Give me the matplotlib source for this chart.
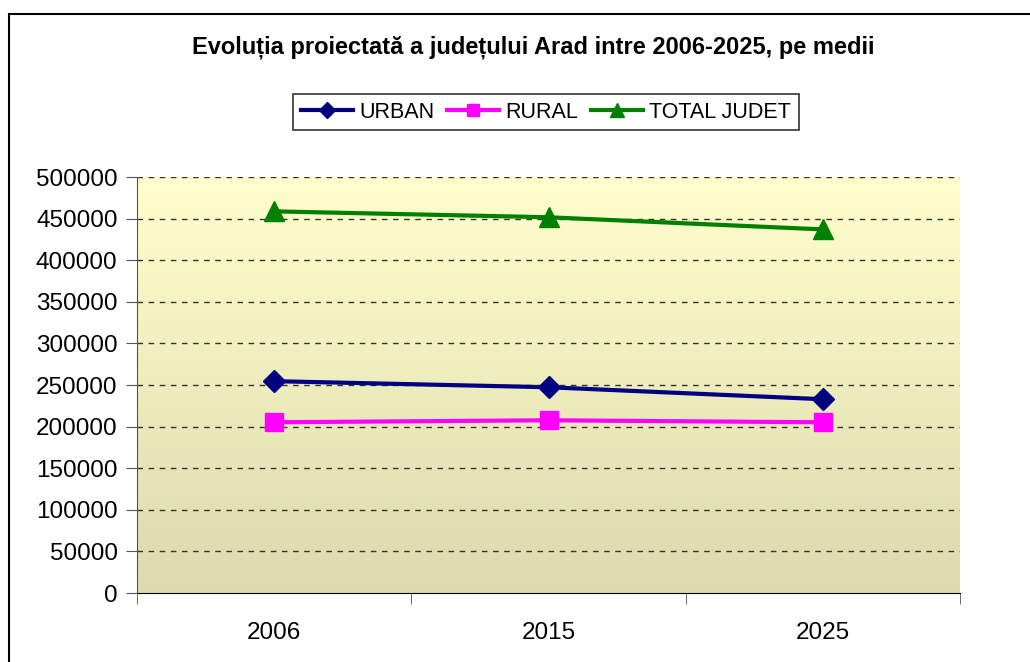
import numpy as np
import matplotlib
matplotlib.use("Agg")
import matplotlib.pyplot as plt
from matplotlib.colors import LinearSegmentedColormap
from matplotlib.patches import Rectangle

# values
years = ["2006", "2015", "2025"]
urban = [254600, 247300, 232900]
rural = [205200, 207600, 205200]
total = [458700, 451600, 437000]

plt.rcParams['font.family'] = ['Liberation Sans', 'DejaVu Sans']

W, H = 1030, 662
fig = plt.figure(figsize=(W / 100, H / 100), dpi=100)

# outer chart border (only left and top are visible)
fig.add_artist(Rectangle((9 / W, -0.1), 1.2, 1 - 14 / H + 0.1, transform=fig.transFigure,
                         fill=False, edgecolor='black', linewidth=1.5))

left, right, top, bottom = 137, 960, 177, 593
ax = fig.add_axes([left / W, 1 - bottom / H, (right - left) / W, (bottom - top) / H])

# gradient plot area
grad = LinearSegmentedColormap.from_list('g', ['#DCDAAE', '#FFFFCC'])
ax.imshow(np.linspace(0, 1, 256).reshape(-1, 1), cmap=grad, aspect='auto',
          extent=[0, 1, 0, 1], transform=ax.transAxes, origin='lower', zorder=0)

x = np.arange(len(years))
ax.plot(x, urban, color='#000080', lw=3, marker='D', ms=11, label='URBAN', zorder=3)
ax.plot(x, rural, color='#FF00FF', lw=3, marker='s', ms=13, label='RURAL', zorder=3)
ax.plot(x, total, color='#008000', lw=3, marker='^', ms=15, label='TOTAL JUDET', zorder=3)

ax.set_xlim(-0.5, 2.5)
ax.set_ylim(0, 500000)
ax.set_yticks(np.arange(0, 500001, 50000))
ax.set_xticks(x)
ax.set_xticklabels(years)
ax.set_xticks([-0.5, 0.5, 1.5, 2.5], minor=True)
ax.tick_params(axis='x', which='major', length=0, pad=21, labelsize=17.5)
ax.tick_params(axis='x', which='minor', length=8, direction='out', color='#555555')
ax.tick_params(axis='y', length=8, direction='out', color='#555555', labelsize=17.5, pad=6)

for y in np.arange(50000, 500001, 50000):
    ax.axhline(y, color='#333333', lw=1, ls=(0, (4, 4)), zorder=1)

for s in ['top', 'right']:
    ax.spines[s].set_visible(False)
ax.spines['left'].set_color('#555555')
ax.spines['bottom'].set_color('black')

fig.text(533 / W, 1 - 47 / H, 'Evoluția proiectată a județului Arad intre 2006-2025, pe medii',
         ha='center', va='center', fontsize=17, fontweight='bold')

leg = fig.legend(loc='center', bbox_to_anchor=(546 / W, 1 - 112 / H), ncol=3,
                 frameon=True, fancybox=False, edgecolor='black', fontsize=15.5,
                 handlelength=2.4, handletextpad=0.3, columnspacing=0.6,
                 borderpad=0.35, markerscale=0.7)
leg.get_frame().set_linewidth(1.2)

fig.savefig('out.png', dpi=100)
